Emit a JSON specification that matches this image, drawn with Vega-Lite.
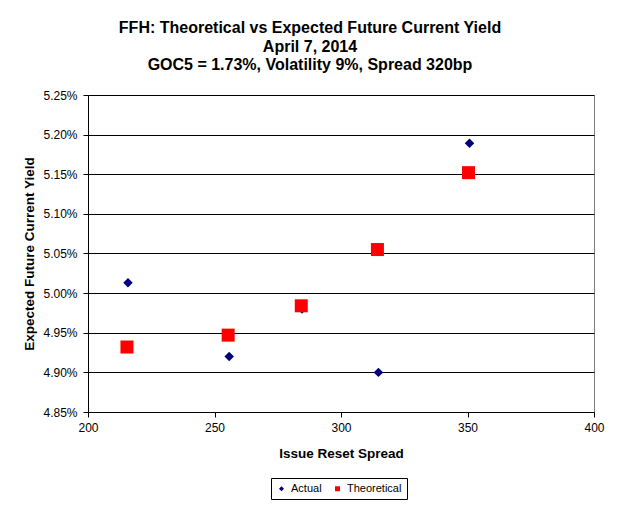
{
  "$schema": "https://vega.github.io/schema/vega-lite/v6.json",
  "autosize": "none",
  "width": 506,
  "height": 317,
  "padding": {"left": 88, "top": 95, "right": 25, "bottom": 97},
  "background": "white",
  "title": {
    "text": ["FFH: Theoretical vs Expected Future Current Yield", "April 7, 2014", "GOC5 = 1.73%, Volatility 9%, Spread 320bp"],
    "font": "Liberation Sans",
    "fontSize": 16,
    "fontWeight": "bold",
    "lineHeight": 18.5,
    "anchor": "middle",
    "dx": -31,
    "offset": 16,
    "color": "black"
  },
  "config": {
    "font": "Liberation Sans",
    "view": {"stroke": "#808080", "strokeWidth": 1},
    "axis": {
      "labelFont": "Liberation Sans",
      "labelFontSize": 12,
      "labelColor": "black",
      "labelFlush": false,
      "titleFont": "Liberation Sans",
      "titleFontSize": 13.5,
      "titleFontWeight": "bold",
      "titleColor": "black",
      "domainColor": "black",
      "tickColor": "black",
      "tickSize": 5,
      "gridColor": "black",
      "gridOpacity": 1,
      "gridWidth": 1
    }
  },
  "data": {
    "values": [
      {"spread": 215.8, "yield": 0.05013, "series": "Actual"},
      {"spread": 255.8, "yield": 0.04920, "series": "Actual"},
      {"spread": 284.6, "yield": 0.04980, "series": "Actual"},
      {"spread": 314.8, "yield": 0.04900, "series": "Actual"},
      {"spread": 350.8, "yield": 0.05189, "series": "Actual"},
      {"spread": 215.4, "yield": 0.04932, "series": "Theoretical"},
      {"spread": 255.4, "yield": 0.04947, "series": "Theoretical"},
      {"spread": 284.3, "yield": 0.04984, "series": "Theoretical"},
      {"spread": 314.4, "yield": 0.05055, "series": "Theoretical"},
      {"spread": 350.4, "yield": 0.05152, "series": "Theoretical"}
    ]
  },
  "encoding": {
    "x": {
      "field": "spread",
      "type": "quantitative",
      "scale": {"domain": [200, 400], "nice": false, "zero": false},
      "axis": {"values": [200, 250, 300, 350, 400], "grid": false, "title": "Issue Reset Spread", "titlePadding": 13, "labelPadding": 5}
    },
    "y": {
      "field": "yield",
      "type": "quantitative",
      "scale": {"domain": [0.0485, 0.0525], "nice": false, "zero": false},
      "axis": {
        "values": [0.0485, 0.049, 0.0495, 0.05, 0.0505, 0.051, 0.0515, 0.052, 0.0525],
        "format": ".2%",
        "grid": true,
        "title": "Expected Future Current Yield",
        "titlePadding": 6,
        "labelPadding": 6
      }
    },
    "color": {
      "field": "series",
      "type": "nominal",
      "scale": {"domain": ["Actual", "Theoretical"], "range": ["#000080", "#FF0000"]},
      "legend": {
        "title": null,
        "orient": "none",
        "legendX": 183,
        "legendY": 383,
        "direction": "horizontal",
        "strokeColor": "black",
        "padding": 5,
        "labelFontSize": 11,
        "labelFont": "Liberation Sans",
        "labelColor": "black",
        "symbolSize": 25,
        "columnPadding": 10
      }
    },
    "shape": {
      "field": "series",
      "type": "nominal",
      "scale": {"domain": ["Actual", "Theoretical"], "range": ["diamond", "square"]}
    }
  },
  "layer": [
    {
      "transform": [{"filter": "datum.series === 'Actual'"}],
      "mark": {"type": "point", "filled": true, "opacity": 1, "size": 90}
    },
    {
      "transform": [{"filter": "datum.series === 'Theoretical'"}],
      "mark": {"type": "point", "filled": true, "opacity": 1, "size": 169}
    }
  ]
}
